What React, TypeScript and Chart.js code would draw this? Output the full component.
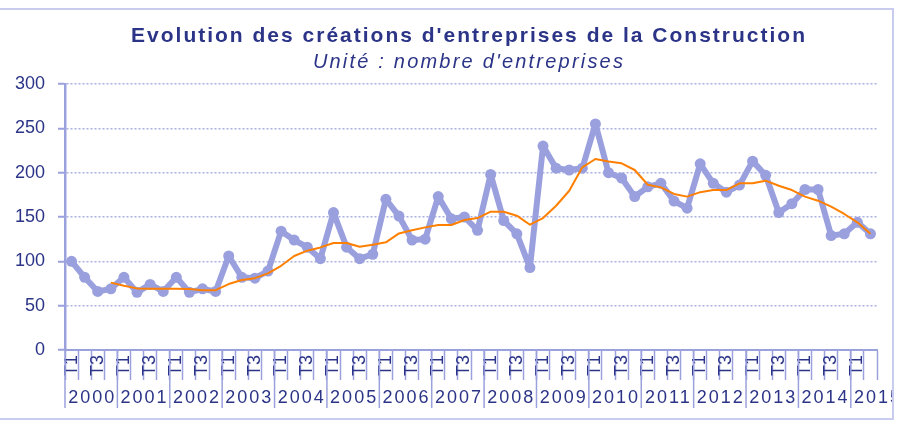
import React, { useEffect, useRef } from "react";
import { Chart, registerables } from "chart.js";

Chart.register(...registerables);

const years = ["2000", "2001", "2002", "2003", "2004", "2005", "2006", "2007", "2008", "2009", "2010", "2011", "2012", "2013", "2014", "2015"];
const quarters = ["T1", "T2", "T3", "T4"];
const shownQuarters = ["T1", "T3"];
const pointCount = 62;
const categories = years.flatMap((y) => quarters).slice(0, pointCount);

const creations = [
  100, 82, 66, 69,
  82, 65, 74, 66,
  82, 65, 69, 66,
  106, 82, 81, 89,
  134, 124, 116, 103,
  155, 116, 103, 108,
  170, 151, 124, 125,
  173, 148, 150, 135,
  198, 146, 131, 93,
  230, 205, 203, 205,
  255, 200, 194, 173,
  184, 188, 168, 160,
  210, 188, 178, 186,
  213, 197, 155, 165,
  181, 181, 129, 131,
  144, 131,
];

const moyenneMobile = [
  null, null, null, 76,
  72.5, 69.5, 69, 69,
  69, 68.7, 67.5, 67.5,
  74.4, 79, 81, 86.4,
  95, 106, 112, 115.7,
  120.6, 120.6, 116.5, 118.8,
  121.4, 131.5, 135, 138.3,
  141, 141, 146.6, 148.8,
  156, 156, 151.5, 141.3,
  148.8, 162.7, 179.6, 206,
  215.4, 212.7, 210.5, 203,
  186.4, 183.4, 176, 173,
  178, 180.4, 180.4, 188,
  188, 191, 185.3, 180.4,
  173, 168.4, 161.6, 153.4,
  144, 131,
];

const titleText = "Evolution des créations d'entreprises de la Construction";
const subtitleText = "Unité : nombre d'entreprises";

const NAVY = "#2b3487";
const AXIS = "#9ba1dd";
const GRID = "#aab0e2";
const SERIES = "#9aa0de";
const ORANGE = "#ff8000";
const FONT = "'Liberation Sans', Arial, sans-serif";

const decorPlugin = {
  id: "decor",
  afterDraw(chart: any) {
    const ctx = chart.ctx as CanvasRenderingContext2D;
    const xs = chart.scales.x;
    const area = chart.chartArea;
    const step = xs.getPixelForValue(1) - xs.getPixelForValue(0);

    ctx.save();
    // year separators and labels
    ctx.strokeStyle = AXIS;
    ctx.lineWidth = 1.5;
    ctx.fillStyle = NAVY;
    ctx.font = `18px ${FONT}`;
    (ctx as any).letterSpacing = "2px";
    ctx.textAlign = "center";
    ctx.textBaseline = "middle";
    for (let k = 0; k < years.length; k++) {
      const i0 = k * 4;
      if (i0 >= pointCount) break;
      const left = xs.getPixelForValue(i0) - step / 2;
      ctx.beginPath();
      ctx.moveTo(left, area.bottom);
      ctx.lineTo(left, area.bottom + 58);
      ctx.stroke();
      ctx.save();
      ctx.beginPath();
      ctx.rect(0, 0, 894, chart.height);
      ctx.clip();
      ctx.fillText(years[k], left + 2 * step + 1, area.bottom + 48);
      ctx.restore();
    }

    // title and subtitle
    ctx.fillStyle = NAVY;
    ctx.textBaseline = "alphabetic";
    ctx.font = `bold 21px ${FONT}`;
    (ctx as any).letterSpacing = "2px";
    ctx.fillText(titleText, 469, 42);
    ctx.font = `italic 20px ${FONT}`;
    (ctx as any).letterSpacing = "2.2px";
    ctx.fillText(subtitleText, 469, 68);
    (ctx as any).letterSpacing = "0px";

    // outer frame
    ctx.strokeStyle = "#c9ccef";
    ctx.lineWidth = 2;
    ctx.beginPath();
    ctx.moveTo(0, 9);
    ctx.lineTo(893, 9);
    ctx.lineTo(893, 419);
    ctx.lineTo(0, 419);
    ctx.stroke();
    ctx.restore();
  },
};

export default function App() {
  const ref = useRef<HTMLCanvasElement | null>(null);

  useEffect(() => {
    if (!ref.current) return;
    const chart = new Chart(ref.current, {
      type: "line",
      data: {
        labels: categories,
        datasets: [
          {
            label: "Créations",
            data: creations,
            borderColor: SERIES,
            backgroundColor: SERIES,
            borderWidth: 6,
            borderJoinStyle: "round",
            borderCapStyle: "round",
            pointRadius: 5.5,
            pointBackgroundColor: SERIES,
            pointBorderWidth: 0,
            tension: 0,
            order: 2,
          },
          {
            label: "Moyenne mobile",
            data: moyenneMobile,
            borderColor: ORANGE,
            borderWidth: 2,
            borderJoinStyle: "round",
            pointRadius: 0,
            tension: 0,
            order: 1,
          },
        ],
      },
      options: {
        responsive: false,
        animation: false,
        events: [],
        layout: { padding: { top: 84, right: 22, bottom: 0, left: 0 } },
        plugins: {
          legend: { display: false },
          title: { display: false },
          tooltip: { enabled: false },
        },
        scales: {
          x: {
            offset: true,
            afterFit: (s: any) => {
              s.height = 72;
            },
            grid: {
              display: true,
              offset: true,
              drawOnChartArea: false,
              drawTicks: true,
              tickLength: 30,
              tickColor: AXIS,
              tickWidth: 1.5,
              color: AXIS,
            },
            border: { display: true, color: AXIS, width: 2 },
            ticks: {
              autoSkip: false,
              minRotation: 90,
              maxRotation: 90,
              padding: -25,
              color: NAVY,
              font: { family: FONT, size: 18 },
              callback: (_v: any, i: number) =>
                shownQuarters.includes(categories[i]) ? categories[i] : "",
            },
          },
          y: {
            min: 0,
            max: 300,
            afterFit: (s: any) => {
              s.width = 65;
            },
            grid: {
              color: GRID,
              lineWidth: 1.5,
              drawTicks: true,
              tickLength: 7,
              tickColor: AXIS,
              tickWidth: 2,
              tickBorderDash: [],
            },
            border: { display: true, color: AXIS, width: 2.5, dash: [2, 2] },
            ticks: {
              stepSize: 50,
              padding: 13,
              color: NAVY,
              font: { family: FONT, size: 18 },
            },
          },
        },
      },
      plugins: [decorPlugin],
    });
    return () => chart.destroy();
  }, []);

  return (
    <div style={{ position: "absolute", left: 0, top: 0, width: 899, height: 422, background: "#fff" }}>
      <canvas ref={ref} width={899} height={422} style={{ display: "block" }} />
    </div>
  );
}
